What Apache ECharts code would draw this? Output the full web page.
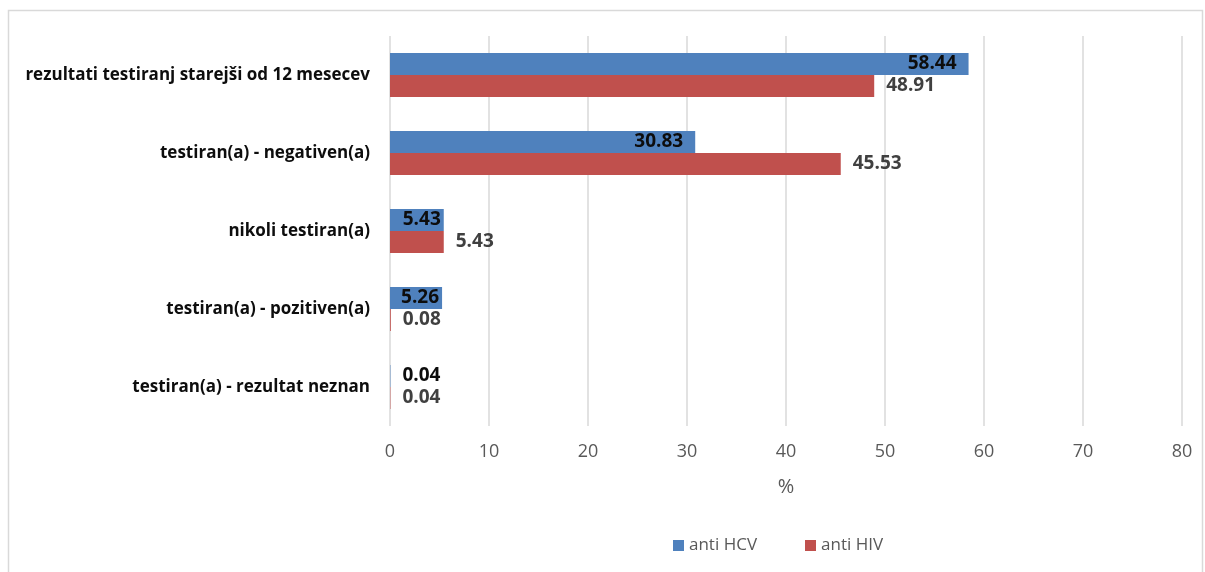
<!DOCTYPE html>
<html>
<head>
<meta charset="utf-8">
<script src="https://cdn.jsdelivr.net/npm/echarts@6/dist/echarts.min.js"></script>
<style>
  html, body { margin: 0; padding: 0; background: #fff; }
  #chart { width: 1205px; height: 572px; }
</style>
</head>
<body>
<div id="chart"></div>
<script>
const categories = [
  'rezultati testiranj starejši od 12 mesecev',
  'testiran(a) - negativen(a)',
  'nikoli testiran(a)',
  'testiran(a) - pozitiven(a)',
  'testiran(a) - rezultat neznan'
];
const hcvValues = [58.44, 30.83, 5.43, 5.26, 0.04];
const hivValues = [48.91, 45.53, 5.43, 0.08, 0.04];
const seriesNames = ['anti HCV', 'anti HIV'];
const axisName = '%';

const FONT = '"Open Sans", "Liberation Sans", sans-serif';

const chart = echarts.init(document.getElementById('chart'));

const hcvData = hcvValues.map(v => {
  if (v < 1) return { value: v, label: { position: 'right', distance: 12 } };
  if (v < 10) return { value: v, label: { distance: 3 } };
  return v;
});

chart.setOption({
  animation: false,
  backgroundColor: '#ffffff',
  graphic: [{
    type: 'rect',
    shape: { x: 8.5, y: 10.5, width: 1194, height: 620 },
    style: { fill: 'none', stroke: '#d9d9d9', lineWidth: 1.5 },
    silent: true,
    z: -1
  }],
  legend: {
    data: seriesNames,
    left: 668,
    top: 532,
    itemWidth: 11,
    itemHeight: 11,
    itemGap: 48,
    icon: 'rect',
    textStyle: { color: '#595959', fontSize: 17, fontFamily: FONT }
  },
  grid: { left: 390, right: 23, top: 36, height: 390, containLabel: false },
  xAxis: {
    type: 'value',
    min: 0,
    max: 80,
    interval: 10,
    name: axisName,
    nameLocation: 'middle',
    nameGap: 51,
    nameTextStyle: { color: '#595959', fontSize: 20, fontFamily: FONT },
    axisLine: { show: false },
    axisTick: { show: false },
    axisLabel: { color: '#595959', fontSize: 18, fontFamily: FONT, margin: 17 },
    splitLine: { show: true, lineStyle: { color: '#d9d9d9', width: 1.5 } }
  },
  yAxis: {
    type: 'category',
    data: categories,
    inverse: true,
    axisLine: { show: false },
    axisTick: { show: false },
    axisLabel: { color: '#0d0d0d', fontSize: 17, fontWeight: 'bold', fontFamily: FONT, margin: 20 }
  },
  series: [
    {
      name: seriesNames[0],
      type: 'bar',
      data: hcvData,
      barWidth: 22,
      barGap: '0%',
      itemStyle: { color: '#4f81bd' },
      label: {
        show: true,
        position: 'insideRight',
        distance: 12,
        color: '#0d0d0d',
        fontSize: 19,
        fontWeight: 'bold',
        fontFamily: FONT,
        formatter: p => p.value.toFixed(2)
      }
    },
    {
      name: seriesNames[1],
      type: 'bar',
      data: hivValues,
      barWidth: 22,
      barGap: '0%',
      itemStyle: { color: '#c0504d' },
      label: {
        show: true,
        position: 'right',
        distance: 12,
        color: '#404040',
        fontSize: 19,
        fontWeight: 'bold',
        fontFamily: FONT,
        formatter: p => p.value.toFixed(2)
      }
    }
  ]
});
</script>
</body>
</html>
